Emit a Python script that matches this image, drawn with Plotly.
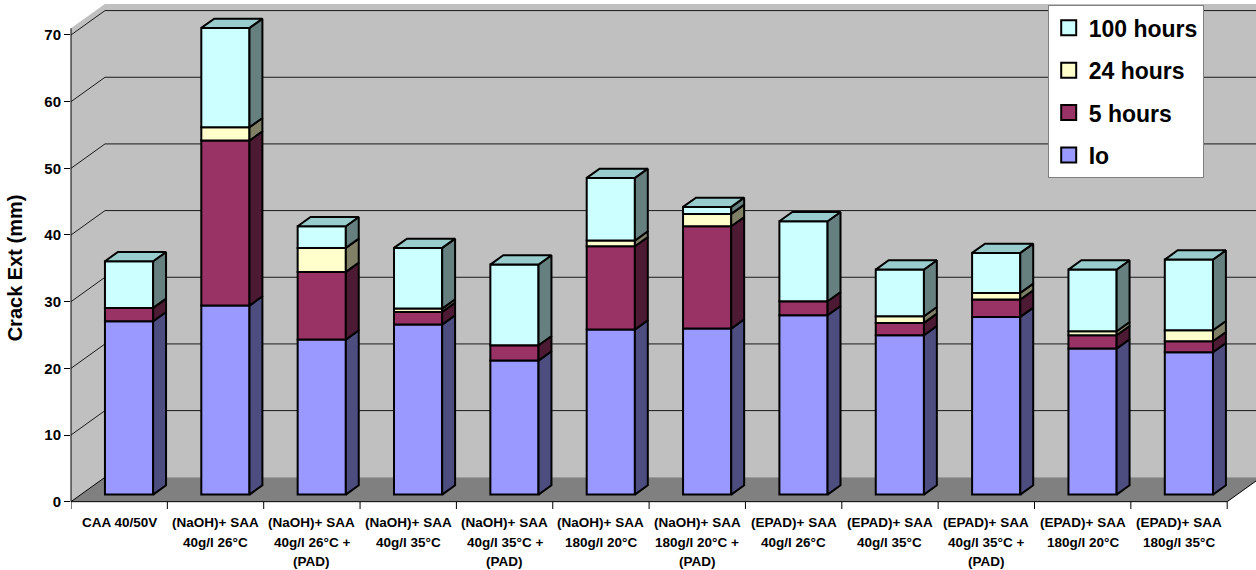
import plotly.graph_objects as go

# ---------------- data ----------------
categories = [
    "CAA 40/50V",
    "(NaOH)+ SAA<br>40g/l 26°C",
    "(NaOH)+ SAA<br>40g/l 26°C +<br>(PAD)",
    "(NaOH)+ SAA<br>40g/l 35°C",
    "(NaOH)+ SAA<br>40g/l 35°C +<br>(PAD)",
    "(NaOH)+ SAA<br>180g/l 20°C",
    "(NaOH)+ SAA<br>180g/l 20°C +<br>(PAD)",
    "(EPAD)+ SAA<br>40g/l 26°C",
    "(EPAD)+ SAA<br>40g/l 35°C",
    "(EPAD)+ SAA<br>40g/l 35°C +<br>(PAD)",
    "(EPAD)+ SAA<br>180g/l 20°C",
    "(EPAD)+ SAA<br>180g/l 35°C",
]
io = [26.0, 28.35, 23.25, 25.5, 20.1, 24.75, 24.9, 26.9, 23.9, 26.65, 21.9, 21.35]
h5 = [2.0, 24.75, 10.15, 1.9, 2.3, 12.5, 15.35, 2.1, 1.85, 2.6, 2.0, 1.65]
h24 = [0.0, 2.0, 3.6, 0.5, 0.0, 0.85, 1.85, 0.0, 1.0, 1.0, 0.6, 1.65]
h100 = [7.0, 14.9, 3.25, 9.1, 12.1, 9.4, 1.05, 12.0, 7.0, 6.0, 9.25, 10.6]
series_names = ["Io", "5 hours", "24 hours", "100 hours"]
y_ticks = [0, 10, 20, 30, 40, 50, 60, 70]
y_title = "Crack Ext (mm)"

# ---------------- style ----------------
FRONT_COLORS = ["#9999FF", "#993366", "#FFFFCC", "#CCFFFF"]
SIDE_COLORS = ["#4D4D80", "#4D1A33", "#808066", "#668080"]
TOP_COLORS = ["#7373BF", "#73264D", "#BFBF99", "#99CCCC"]
WALL = "#C0C0C0"
FLOOR = "#808080"
GRID = "#1a1a1a"
FONT = "Liberation Sans, Arial, sans-serif"

DEPTH_X = 0.353   # full floor depth, in category units
DEPTH_Y = 3.66    # full floor depth, in value units
FRONT = 0.29      # fraction of depth where bar front faces sit
BACK = 0.67       # fraction of depth where bar back faces sit
BAR_W = 0.5
WALL_EXTRA = 1.0

W, H = 1256, 570
ML, MR, MT, MB = 71, 0, 4, 61
PX_PER_CAT = 96.35
PX_PER_UNIT = 6.667

n = len(categories)
plot_w = W - ML - MR
plot_h = H - MT - MB
Y_BOTTOM = -1.1
x_range = [-0.5, -0.5 + plot_w / PX_PER_CAT]
y_range = [Y_BOTTOM, Y_BOTTOM + plot_h / PX_PER_UNIT]
wall_top = y_ticks[-1] + WALL_EXTRA

series = [io, h5, h24, h100]

fx, fy = FRONT * DEPTH_X, FRONT * DEPTH_Y
sx, sy = (BACK - FRONT) * DEPTH_X, (BACK - FRONT) * DEPTH_Y

fig = go.Figure()
shapes = []

x_left, x_right = -0.5, n - 0.5
bx, by = DEPTH_X, DEPTH_Y


def poly(pts):
    return "M " + " L ".join(f"{a},{b}" for a, b in pts) + " Z"


# left wall
shapes.append(dict(type="path", xref="x", yref="y", layer="below",
                   path=poly([(x_left, 0), (x_left + bx, by), (x_left + bx, wall_top + by), (x_left, wall_top)]),
                   fillcolor=WALL, line=dict(width=0)))
# back wall
shapes.append(dict(type="path", xref="x", yref="y", layer="below",
                   path=poly([(x_left + bx, by), (x_right + bx + 1, by), (x_right + bx + 1, wall_top + by), (x_left + bx, wall_top + by)]),
                   fillcolor=WALL, line=dict(width=0)))
# floor
shapes.append(dict(type="path", xref="x", yref="y", layer="below",
                   path=poly([(x_left, 0), (x_right, 0), (x_right + bx, by), (x_left + bx, by)]),
                   fillcolor=FLOOR, line=dict(width=0)))
# gridlines
for v in y_ticks[1:]:
    shapes.append(dict(type="line", xref="x", yref="y", layer="below",
                       x0=x_left, y0=v, x1=x_left + bx, y1=v + by, line=dict(color=GRID, width=1)))
    shapes.append(dict(type="line", xref="x", yref="y", layer="below",
                       x0=x_left + bx, y0=v + by, x1=x_right + bx + 1, y1=v + by, line=dict(color=GRID, width=1)))
# floor edges / axis lines
shapes.append(dict(type="line", xref="x", yref="y", layer="below",
                   x0=x_left, y0=0, x1=x_left + bx, y1=by, line=dict(color="black", width=1)))
shapes.append(dict(type="line", xref="x", yref="y", layer="below",
                   x0=x_left, y0=0, x1=x_right, y1=0, line=dict(color="black", width=1)))
shapes.append(dict(type="line", xref="x", yref="y", layer="below",
                   x0=x_right, y0=0, x1=x_right + bx, y1=by, line=dict(color="black", width=1)))
shapes.append(dict(type="line", xref="paper", yref="y", layer="above",
                   x0=0, y0=0, x1=0, y1=wall_top, line=dict(color="black", width=1)))
# x tick marks at category boundaries
for k in range(n + 1):
    shapes.append(dict(type="line", xref="x", yref="y", layer="below",
                       x0=k - 0.5, y0=0, x1=k - 0.5, y1=Y_BOTTOM, line=dict(color="black", width=1)))

# front faces (bars)
cum = [0.0] * n
tops = [None] * n
for s, (vals, name) in enumerate(zip(series, series_names)):
    bases = [c + fy for c in cum]
    fig.add_trace(go.Bar(
        x=[i + fx for i in range(n)], y=vals, base=bases, width=BAR_W,
        name=name, showlegend=False,
        marker=dict(color=FRONT_COLORS[s], line=dict(color="black", width=2)),
        hoverinfo="skip",
    ))
    # side faces
    xs, ys = [], []
    for i in range(n):
        if vals[i] <= 0:
            continue
        xr = i + fx + BAR_W / 2
        y0 = cum[i] + fy
        y1 = cum[i] + vals[i] + fy
        xs += [xr, xr + sx, xr + sx, xr, xr, None]
        ys += [y0, y0 + sy, y1 + sy, y1, y0, None]
        tops[i] = s
    fig.add_trace(go.Scatter(x=xs, y=ys, mode="lines", fill="toself",
                             fillcolor=SIDE_COLORS[s], line=dict(color="black", width=2),
                             showlegend=False, hoverinfo="skip"))
    cum = [c + v for c, v in zip(cum, vals)]

# top faces
for s in range(len(series)):
    xs, ys = [], []
    for i in range(n):
        if tops[i] != s:
            continue
        xl = i + fx - BAR_W / 2
        xr = i + fx + BAR_W / 2
        yt = cum[i] + fy
        xs += [xl, xl + sx, xr + sx, xr, xl, None]
        ys += [yt, yt + sy, yt + sy, yt, yt, None]
    if xs:
        fig.add_trace(go.Scatter(x=xs, y=ys, mode="lines", fill="toself",
                                 fillcolor=TOP_COLORS[s], line=dict(color="black", width=2),
                                 showlegend=False, hoverinfo="skip"))

# legend entries (square swatches)
for s, name in enumerate(series_names):
    fig.add_trace(go.Scatter(
        x=[None], y=[None], mode="markers", name=name, legendgroup=name,
        legendrank=len(series) - s,
        marker=dict(symbol="square", size=15, color=FRONT_COLORS[s],
                    line=dict(color="black", width=2)),
    ))

# category labels
annotations = []
for i, lab in enumerate(categories):
    for k, line in enumerate(lab.split("<br>")):
        annotations.append(dict(
            x=i, xref="x", y=0, yref="paper", yanchor="middle", xanchor="center",
            yshift=-(13.5 + 19.5 * k), text=line, showarrow=False,
            font=dict(family=FONT, size=13.5, color="black", weight="bold")))
annotations.append(dict(
    x=0, xref="paper", xshift=-(ML - 15), xanchor="center",
    y=(y_ticks[0] + y_ticks[-1]) / 2, yref="y", yanchor="middle",
    text=y_title, textangle=-90, showarrow=False,
    font=dict(family=FONT, size=20, color="black", weight="bold")))

fig.update_layout(
    width=W, height=H,
    margin=dict(l=ML, r=MR, t=MT, b=MB, pad=0, autoexpand=False),
    paper_bgcolor="white", plot_bgcolor="white",
    barmode="overlay",
    shapes=shapes, annotations=annotations,
    xaxis=dict(range=x_range, showgrid=False, zeroline=False, showline=False,
               showticklabels=False, ticks="", fixedrange=True),
    yaxis=dict(range=y_range, tickvals=y_ticks, ticks="outside", ticklen=6,
               tickcolor="black", tickwidth=1, showgrid=False, zeroline=False,
               showline=False, fixedrange=True,
               tickfont=dict(family=FONT, size=15, color="black", weight="bold")),
    legend=dict(xref="paper", yref="paper",
                x=(1047.7 - ML) / plot_w, y=1 - 1.3 / plot_h,
                xanchor="left", yanchor="top", bgcolor="white",
                bordercolor="#808080", borderwidth=1,
                traceorder="grouped", tracegroupgap=9.5, itemsizing="trace",
                font=dict(family=FONT, size=23, color="black", weight="bold")),
    showlegend=True,
)

fig.write_html("out.html")
